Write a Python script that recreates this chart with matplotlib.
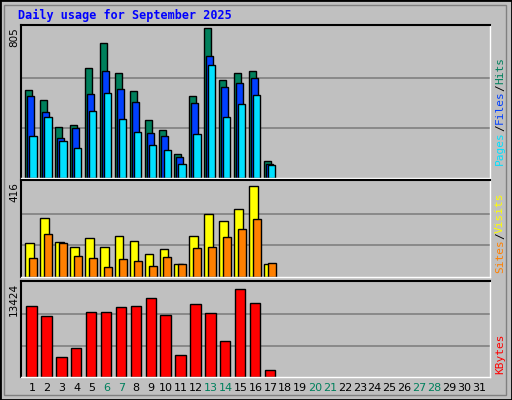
import numpy as np
import matplotlib
matplotlib.use('Agg')
import matplotlib.pyplot as plt
from matplotlib.patches import Rectangle

days = np.arange(1, 32)
hits = [471, 419, 275, 286, 588, 725, 561, 466, 312, 259, 127, 439, 805, 524, 561, 572, 90]
files = [439, 355, 217, 270, 450, 572, 476, 408, 244, 228, 111, 402, 656, 487, 508, 535, 74]
pages = [228, 328, 201, 159, 360, 455, 318, 249, 175, 148, 74, 238, 609, 328, 397, 445, 69]
visits = [148, 259, 152, 130, 169, 130, 178, 156, 100, 122, 57, 178, 276, 246, 298, 396, 57]
sites = [83, 190, 148, 92, 83, 45, 79, 70, 49, 87, 57, 126, 130, 173, 212, 255, 62]
kbytes = [10190, 8680, 2795, 4165, 9230, 9230, 10055, 10190, 11290, 8820, 3205,
          10465, 9095, 5125, 12520, 10605, 1015]
weekend = [6, 7, 13, 14, 20, 21, 27, 28]

W, H = 512, 400
bg = '#C0C0C0'
fig = plt.figure(figsize=(W / 100, H / 100), dpi=100, facecolor=bg)
mono = 'DejaVu Sans Mono'

# bevelled outer frame
fig.patches.append(Rectangle((0, 0), 1, 1, transform=fig.transFigure, fill=False,
                             edgecolor='black', lw=2))
fig.patches.append(Rectangle((4 / W, 5 / H), 1 - 10 / W, 1 - 10 / H, transform=fig.transFigure,
                             fill=False, edgecolor='#808080', lw=1))

left, right = 20.7, 490


def make_ax(top, bottom, ymax):
    ax = fig.add_axes([left / W, 1 - bottom / H, (right - left) / W, (bottom - top) / H])
    ax.set_facecolor(bg)
    ax.set_xlim(0.24, 31.74)
    ax.set_ylim(0, ymax * 1.02)
    for g in (1, 2):
        ax.axhline(ymax * g / 3, color='#808080', lw=1.2, zorder=0)
    for s in ('top', 'left'):
        ax.spines[s].set_color('black')
        ax.spines[s].set_linewidth(1.5)
    for s in ('bottom', 'right'):
        ax.spines[s].set_color('white')
        ax.spines[s].set_linewidth(1)
    ax.set_yticks([])
    ax.set_xticks([])
    return ax


n = len(hits)
d = days[:n]
kw = dict(edgecolor='black', linewidth=1, align='center')

ax1 = make_ax(25, 178, 805)
ax1.bar(d - 0.21, hits, width=0.47, color='#00805C', **kw)
ax1.bar(d - 0.08, files, width=0.47, color='#0040FF', **kw)
ax1.bar(d + 0.07, pages, width=0.49, color='#00E0FF', **kw)

ax2 = make_ax(180, 277, 416)
ax2.bar(d - 0.15, visits, width=0.58, color='#FFFF00', **kw)
ax2.bar(d + 0.09, sites, width=0.54, color='#FF8000', **kw)

ax3 = make_ax(281, 377, 13424)
ax3.bar(d - 0.03, kbytes, width=0.7, color='#FF0000', **kw)

# day labels
for day in days:
    c = '#00805C' if day in weekend else 'black'
    x = left + (day - 0.24) / 31.5 * (right - left)
    fig.text(x / W, 1 - 388 / H, str(day), color=c, fontsize=8, ha='center', va='center')

fig.text(18 / W, 1 - 15 / H, 'Daily usage for September 2025', color='#0000FF',
         fontsize=8.5, fontweight='bold', family=mono, va='center')

for ytop, lab in ((27, '805'), (182, '416'), (283, '13424')):
    fig.text(14 / W, 1 - ytop / H, lab, rotation=90, fontsize=7.5, ha='center', va='top')

renderer = fig.canvas.get_renderer()


def side_label(ybottom, parts):
    y = ybottom
    for txt, col in parts:
        t = fig.text(500 / W, 1 - y / H, txt, rotation=90, color=col, fontsize=8,
                     family=mono, ha='center', va='bottom')
        y -= t.get_window_extent(renderer).height


side_label(165, [('Pages', '#00E0FF'), ('/', 'black'), ('Files', '#0040FF'),
                 ('/', 'black'), ('Hits', '#00805C')])
side_label(273, [('Sites', '#FF8000'), ('/', 'black'), ('Visits', '#FFFF00')])
side_label(374, [('KBytes', '#FF0000')])

fig.savefig('out.png', dpi=100, facecolor=bg)
